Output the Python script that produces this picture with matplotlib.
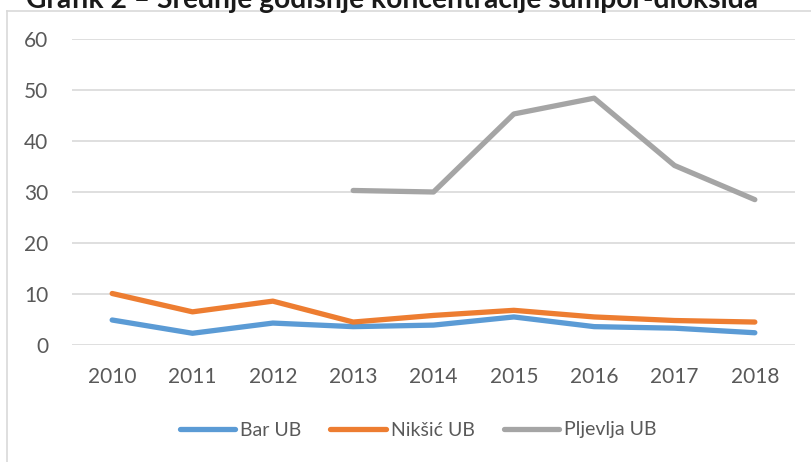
import matplotlib
matplotlib.use("Agg")
import matplotlib.pyplot as plt
from matplotlib.lines import Line2D

# data
years = ["2010", "2011", "2012", "2013", "2014", "2015", "2016", "2017", "2018"]
bar_ub = [4.9, 2.3, 4.3, 3.6, 3.9, 5.5, 3.6, 3.3, 2.4]
niksic_ub = [10.1, 6.5, 8.6, 4.5, 5.8, 6.8, 5.5, 4.8, 4.5]
pljevlja_ub = [None, None, None, 30.3, 30.0, 45.3, 48.4, 35.2, 28.5]
series_names = ["Bar UB", "Nikšić UB", "Pljevlja UB"]
colors = ["#5b9bd5", "#ed7d31", "#a5a5a5"]
title = "Grafik 2 – Srednje godišnje koncentracije sumpor-dioksida"

plt.rcParams['font.family'] = ['Lato', 'DejaVu Sans']

W, H = 812, 462
fig = plt.figure(figsize=(W / 100, H / 100), dpi=100)
fig.patch.set_facecolor("white")

# chart frame (only top and left edges visible)
fig.add_artist(Line2D([7 / W, 7 / W], [0, 1 - 11 / H], color="#d9d9d9", lw=1.2))
fig.add_artist(Line2D([7 / W, 1], [1 - 11 / H, 1 - 11 / H], color="#d9d9d9", lw=1.2))

# plot area
ax = fig.add_axes([72 / W, 1 - 345 / H, (795 - 72) / W, (345 - 39) / H])
x = list(range(len(years)))
data = [bar_ub, niksic_ub, pljevlja_ub]
for vals, name, c in zip(data, series_names, colors):
    xs = [i for i, v in zip(x, vals) if v is not None]
    ys = [v for v in vals if v is not None]
    ax.plot(xs, ys, color=c, lw=3.8, solid_capstyle="round",
            solid_joinstyle="round", label=name, zorder=3)

ax.set_xlim(-0.5, len(years) - 0.5)
ax.set_ylim(0, 60)
ax.set_yticks(range(0, 61, 10))
ax.set_xticks(x)
ax.set_xticklabels(years)
ax.grid(axis="y", color="#d9d9d9", lw=1.2)
ax.set_axisbelow(True)
for s in ax.spines.values():
    s.set_visible(False)
ax.tick_params(axis="both", length=0, labelsize=15, colors="#595959")
ax.tick_params(axis="y", pad=17)
ax.tick_params(axis="x", pad=16)

leg = fig.legend(loc="center", bbox_to_anchor=(418 / W, 1 - 430 / H), ncol=3,
                 frameon=False, fontsize=14, handlelength=2.85,
                 handletextpad=0.25, columnspacing=1.5)
for t in leg.get_texts():
    t.set_color("#595959")

# title, clipped at the top of the image as in the source
tt = fig.text(26 / W, 1 - 8 / H, title, fontsize=20, fontweight="bold",
              color="#1a1a1a", ha="left", va="baseline")
fig.canvas.draw()
w = tt.get_window_extent().width
tt.set_fontsize(20 * 729 / w)

fig.savefig("out.png", dpi=100)
